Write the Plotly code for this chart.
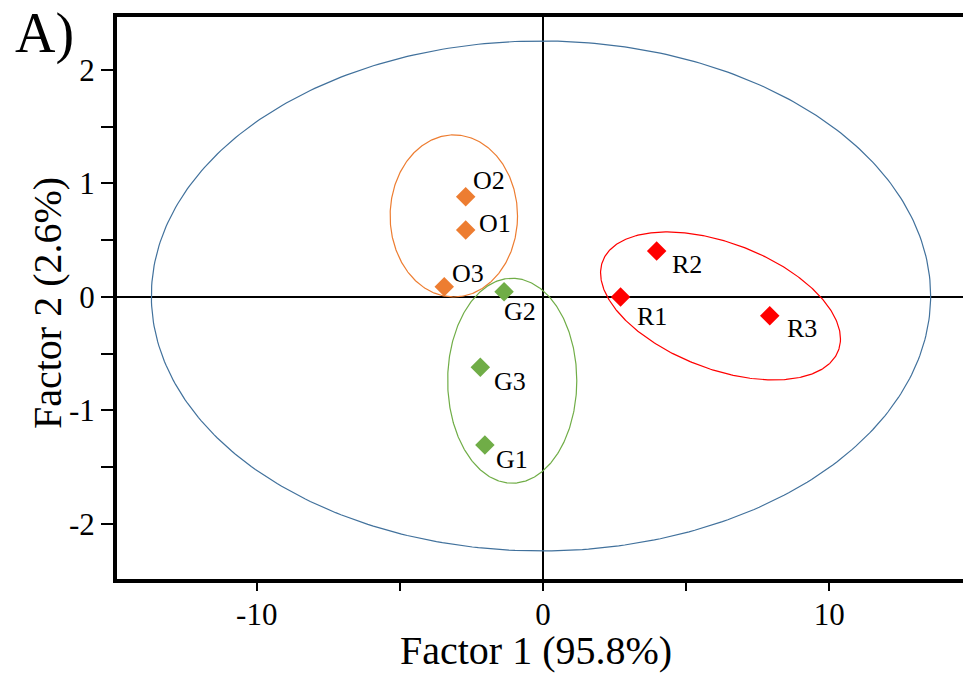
import numpy as np
import plotly.graph_objects as go

# ---------------- data ----------------
sample_labels = ["O1", "O2", "O3", "G1", "G2", "G3", "R1", "R2", "R3"]
factor1 = [-2.70, -2.70, -3.45, -2.03, -1.36, -2.19, 2.71, 3.97, 7.92]
factor2 = [0.590, 0.884, 0.091, -1.304, 0.047, -0.619, 0.00, 0.405, -0.165]
groups = ["O", "O", "O", "G", "G", "G", "R", "R", "R"]

# confidence ellipses: centre, semi-extent in x / y, correlation
ellipse_names = ["all", "O", "G", "R"]
ellipse_cx = [-0.07, -3.115, -1.075, 6.20]
ellipse_cy = [0.009, 0.714, -0.738, -0.079]
ellipse_sx = [13.61, 2.225, 2.255, 4.19]
ellipse_sy = [2.247, 0.714, 0.903, 0.652]
ellipse_rho = [0.0, 0.0, 0.0, -0.446]

x_tickvals = [-10, 0, 10]
x_ticktext = ["-10", "0", "10"]
y_tickvals = [-2, -1, 0, 1, 2]
y_ticktext = ["-2", "-1", "0", "1", "2"]

# ---------------- styles ----------------
colors = {"O": "#ED7D31", "G": "#70AD47", "R": "#FF0000", "all": "#41719C"}
label_offsets = {  # pixel offsets (dx, dy-up) of each label from its marker
    "O1": (29, 7), "O2": (23, 16), "O3": (24, 13),
    "G1": (27, -15), "G2": (16, -20), "G3": (30, -14),
    "R1": (31, -20), "R2": (30, -13), "R3": (32, -13),
}
FONT = "Liberation Serif"

fig = go.Figure()

t = np.linspace(0, 2 * np.pi, 400)
for name, cx, cy, sx, sy, rho in zip(ellipse_names, ellipse_cx, ellipse_cy,
                                     ellipse_sx, ellipse_sy, ellipse_rho):
    ex = cx + sx * np.cos(t)
    ey = cy + sy * (rho * np.cos(t) + np.sqrt(1 - rho ** 2) * np.sin(t))
    fig.add_trace(go.Scatter(x=ex, y=ey, mode="lines",
                             line=dict(color=colors[name], width=1.2),
                             hoverinfo="skip", showlegend=False))

fig.add_trace(go.Scatter(
    x=factor1, y=factor2, mode="markers",
    marker=dict(symbol="diamond", size=15, color=[colors[g] for g in groups],
                line=dict(width=0)),
    text=sample_labels, showlegend=False))

for lab, x, y in zip(sample_labels, factor1, factor2):
    dx, dy = label_offsets[lab]
    fig.add_annotation(x=x, y=y, text=lab, showarrow=False,
                       xshift=dx, yshift=dy, xanchor="center", yanchor="middle",
                       font=dict(family=FONT, size=26, color="black"))

L, R, T, B = 117, 0, 17, 110
W, H = 963, 689
pw, ph = W - L - R, H - T - B

fig.update_xaxes(range=[-14.88, 14.67], showgrid=False,
                 zeroline=True, zerolinecolor="black", zerolinewidth=2,
                 showline=True, linecolor="black", linewidth=4, mirror=True,
                 ticks="outside", ticklen=8, tickwidth=1.5, tickcolor="black",
                 tickvals=x_tickvals, ticktext=x_ticktext,
                 ticklabelstandoff=-3,
                 tickfont=dict(family=FONT, size=31, color="black"),
                 minor=dict(dtick=5, tick0=0, ticks="outside", ticklen=8,
                            tickwidth=1.5, tickcolor="black", showgrid=False))
fig.update_yaxes(range=[-2.485, 2.467], showgrid=False,
                 zeroline=True, zerolinecolor="black", zerolinewidth=2,
                 showline=True, linecolor="black", linewidth=4, mirror=False,
                 ticks="outside", ticklen=12, tickwidth=1.5, tickcolor="black",
                 tickvals=y_tickvals, ticktext=y_ticktext,
                 tickfont=dict(family=FONT, size=31, color="black"),
                 minor=dict(dtick=0.5, tick0=0, ticks="outside", ticklen=12,
                            tickwidth=1.5, tickcolor="black", showgrid=False))

def px_to_paper(xp, yp):
    return (xp - L) / pw, (H - B - yp) / ph

ax_x, ax_y = px_to_paper(536, 650)
fig.add_annotation(xref="paper", yref="paper", x=ax_x, y=ax_y,
                   text="Factor 1 (95.8%)", showarrow=False,
                   xanchor="center", yanchor="middle",
                   font=dict(family=FONT, size=40, color="black"))
ay_x, ay_y = px_to_paper(47, 303)
fig.add_annotation(xref="paper", yref="paper", x=ay_x, y=ay_y,
                   text="Factor 2 (2.6%)", showarrow=False, textangle=-90,
                   xanchor="center", yanchor="middle",
                   font=dict(family=FONT, size=40, color="black"))
a_x, a_y = px_to_paper(13, 34)
fig.add_annotation(xref="paper", yref="paper", x=a_x, y=a_y,
                   text="A)", showarrow=False,
                   xanchor="left", yanchor="middle",
                   font=dict(family=FONT, size=56, color="black"))

fig.update_layout(width=W, height=H,
                  margin=dict(l=L, r=R, t=T, b=B, pad=0),
                  plot_bgcolor="white", paper_bgcolor="white",
                  showlegend=False)

fig.write_html("out.html")
